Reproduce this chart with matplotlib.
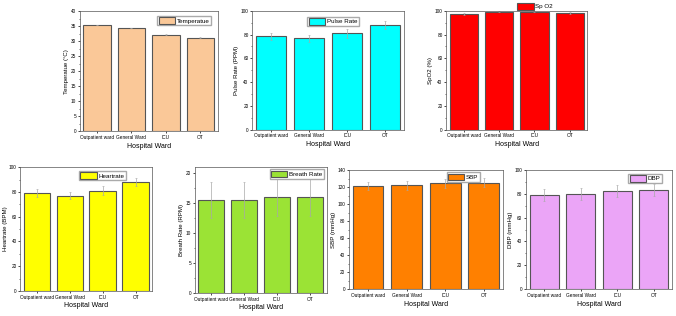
import numpy as np
import matplotlib.pyplot as plt
from matplotlib.ticker import AutoMinorLocator

plt.rcParams['font.family'] = 'Liberation Sans'

wards = ["Outpatient ward", "General Ward", "ICU", "OT"]

temperature = [35.4, 34.4, 32.1, 31.1]
temperature_err = [0.1, 0.1, 0.1, 0.1]
pulse = [78.5, 77.0, 81.0, 88.0]
pulse_err = [3.0, 3.0, 3.5, 3.0]
spo2 = [97.5, 99.3, 99.3, 98.0]
spo2_err = [0.8, 0.3, 0.3, 0.6]
heartrate = [79.0, 77.0, 81.0, 88.0]
heartrate_err = [3.0, 3.0, 3.5, 3.0]
breath = [15.4, 15.4, 16.0, 16.0]
breath_err = [3.0, 3.0, 3.2, 3.2]
sbp = [121.0, 122.0, 124.5, 125.0]
sbp_err = [5.0, 5.0, 5.5, 5.5]
dbp = [79.0, 80.0, 82.0, 83.0]
dbp_err = [5.0, 5.0, 5.0, 5.0]

panels = [
    # values, errors, color, legend, ylabel, ymax, ystep, axes rect, legend anchor
    (temperature, temperature_err, "#FAC898", "Temperatue", "Temperatue (°C)", 40, 5,
     [0.118, 0.585, 0.204, 0.380], (0.95, 0.96)),
    (pulse, pulse_err, "#00FFFF", "Pulse Rate", "Pulse Rate (PPM)", 100, 20,
     [0.373, 0.589, 0.225, 0.377], (0.70, 0.95)),
    (spo2, spo2_err, "#FF0000", "Sp O2", "SpO2 (%)", 100, 20,
     [0.660, 0.589, 0.209, 0.377], None),
    (heartrate, heartrate_err, "#FFFF00", "Heartrate", "Heartrate (BPM)", 100, 20,
     [0.030, 0.079, 0.195, 0.392], (0.80, 0.97)),
    (breath, breath_err, "#9BE335", "Breath Rate", "Breath Rate (RPM)", 21, 5,
     [0.288, 0.073, 0.195, 0.399], (0.98, 0.98)),
    (sbp, sbp_err, "#FF8000", "SBP", "SBP (mmHg)", 140, 20,
     [0.516, 0.085, 0.228, 0.377], (0.85, 0.98)),
    (dbp, dbp_err, "#EBA5F7", "DBP", "DBP (mmHg)", 100, 20,
     [0.778, 0.085, 0.216, 0.377], (0.93, 0.97)),
]

fig = plt.figure(figsize=(6.76, 3.16), dpi=100)

x = np.arange(len(wards))
for vals, errs, color, leg, ylab, ymax, ystep, rect, anchor in panels:
    ax = fig.add_axes(rect)
    ax.bar(x, vals, width=0.8, color=color, edgecolor="#555555", linewidth=0.8,
           label=leg, yerr=errs, error_kw=dict(ecolor="#A8A8A8", elinewidth=0.5,
                                               capsize=1.0, capthick=0.4))
    ax.set_xlim(-0.5, 3.5)
    ax.set_ylim(0, ymax)
    ax.set_yticks(np.arange(0, ymax + 0.1, ystep))
    ax.yaxis.set_minor_locator(AutoMinorLocator(2))
    ax.set_xticks(x)
    ax.set_xticklabels(wards)
    ax.tick_params(labelsize=3.4, length=1.6, width=0.5, pad=1.0)
    ax.tick_params(which="minor", length=1.0, width=0.4)
    for s in ax.spines.values():
        s.set_linewidth(0.5)
        s.set_color("#555555")
    ax.set_xlabel("Hospital Ward", fontsize=5, labelpad=2)
    ax.set_ylabel(ylab, fontsize=4.4, labelpad=1.0)
    if anchor is None:
        # SpO2 legend sits above the plot area
        ax.legend(loc="lower center", bbox_to_anchor=(0.63, 0.98), fontsize=4.5,
                  frameon=False, handlelength=2.6, handleheight=1.3,
                  handletextpad=0.3, borderpad=0.05)
    else:
        ax.legend(loc="upper right", bbox_to_anchor=anchor, borderaxespad=0,
                  fontsize=4.5, frameon=True, fancybox=False,
                  edgecolor="#AAAAAA", handlelength=2.6, handleheight=1.3,
                  handletextpad=0.3, borderpad=0.2, framealpha=1)

fig.savefig("out.png", dpi=100)
